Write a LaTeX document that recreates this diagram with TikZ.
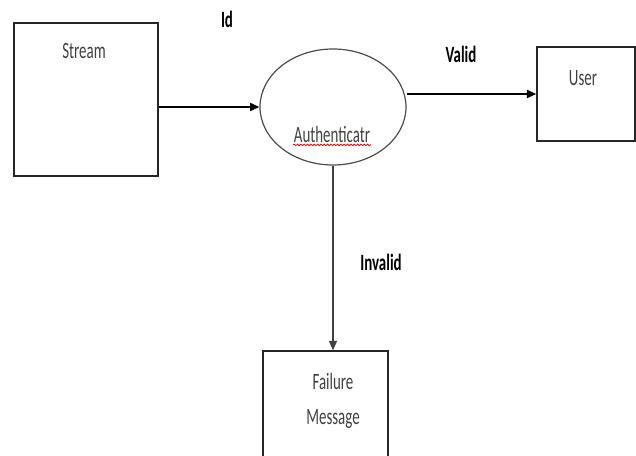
\documentclass[tikz,border=0pt]{standalone}
\usepackage{fontspec}
\setmainfont[FakeStretch=0.64]{Carlito}
\usetikzlibrary{shapes.geometric,arrows.meta,decorations.pathmorphing}

\begin{document}
\begin{tikzpicture}[x=0.75pt,y=-0.75pt,
  box/.style={draw=black!85,line width=1.1pt,minimum width=#1,inner sep=0pt},
  flow/.style={-{Triangle[length=7pt,width=6pt]},line width=1.4pt},
  txt/.style={font=\fontsize{17.5}{20}\selectfont,text=black!75},
  lbl/.style={font=\fontsize{17.5}{20}\selectfont\bfseries}]
\useasboundingbox (0,0) rectangle (636,456);
\clip (0,0) rectangle (636,456);

% Boxes and process
\node[box=108pt,minimum height=114.75pt] (stream) at (86,99.5) {};
\node[box=73.5pt,minimum height=70.5pt] (user) at (586,94) {};
\node[box=93.75pt,minimum height=97.5pt] (fail) at (325.5,416) {};
\node[ellipse,draw=black!70,line width=0.9pt,minimum width=109.5pt,minimum height=87pt] (auth) at (333,107) {};

% Arrows
\draw[flow] (stream.east |- auth.west) -- (auth.west);
\draw[flow] (auth.east |- user.west) -- (user.west);
\draw[flow,line width=0.9pt,draw=black!75] (auth.south) -- (auth.south |- fail.north);

% Labels
\node[txt] at (84,51) {Stream};
\node[txt] at (583,78) {User};
\node[txt] at (333,381) {Failure};
\node[txt] at (333,419) {Message};
\node[txt] (authtxt) at (332,134) {Authenticatr};
\draw[red,line width=0.6pt,decorate,decoration={snake,amplitude=0.6pt,segment length=2.5pt}]
  (authtxt.south west) ++(4,-2) -- ++(78,0);
\node[lbl] at (227,19) {Id};
\node[lbl] at (461,54) {Valid};
\node[lbl] at (381,262) {Invalid};
\end{tikzpicture}
\end{document}
